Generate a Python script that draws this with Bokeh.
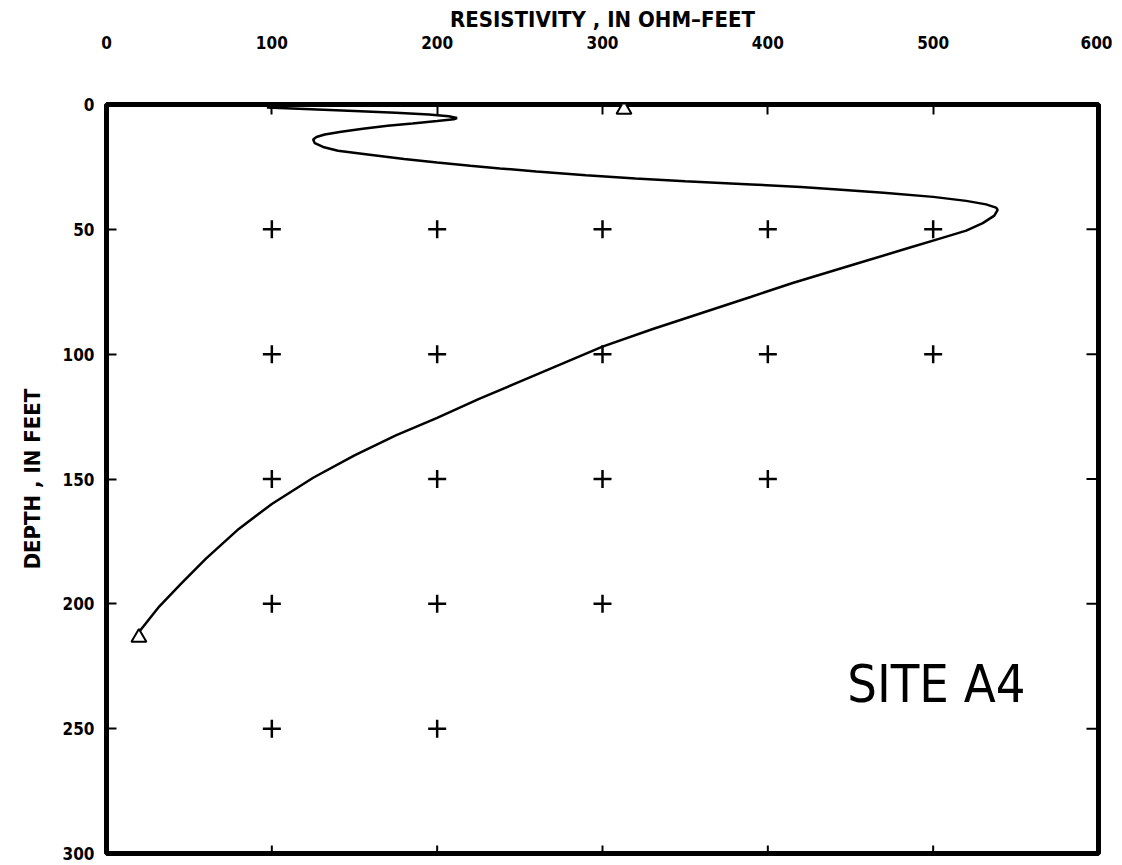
import math
from bokeh.plotting import figure
from bokeh.models import Range1d, LinearAxis, FixedTicker, Label
from bokeh.embed import file_html
from bokeh.resources import INLINE

# ---- data ----
curve_resistivity = [97, 120, 150, 175, 195, 207, 212, 210, 200, 185, 170, 155, 142, 132, 127, 125,
                     126, 131, 140, 158, 180, 200, 220, 238, 260, 290, 320, 350, 390, 420, 440,
                     470, 500, 520, 532, 538, 539,
                     537, 530, 520, 505, 485, 460, 440, 415, 390, 360, 330, 300, 275, 250, 225,
                     200, 175, 150, 125, 100, 80, 60, 45, 32, 20]
curve_depth = [1.2, 1.8, 2.6, 3.3, 4.0, 4.7, 5.4, 5.9, 6.6, 7.6, 8.5, 9.7, 10.9, 12.0, 13.0, 14.0,
               15.5, 17.0, 18.5, 20.0, 21.8, 23.2, 24.5, 25.6, 26.8, 28.3, 29.6, 30.7, 32.0, 33.0, 33.9,
               35.3, 37.0, 38.6, 40.0, 41.3, 42.2,
               44.5, 47.5, 50.5, 53.5, 57.5, 62.5, 66.5, 71.5, 77.0, 83.5, 90.0, 97.0, 104.0, 111.0, 118.0,
               125.5, 132.5, 140.5, 149.5, 160.0, 170.0, 182.0, 192.0, 201.0, 211.0]

end_resistivity = [313, 19.6]
end_depth = [2.0, 213.5]

cross_resistivity = [100, 200, 300, 400, 500,
                     100, 200, 300, 400, 500,
                     100, 200, 300, 400,
                     100, 200, 300,
                     100, 200]
cross_depth = [50] * 5 + [100] * 5 + [150] * 4 + [200] * 3 + [250] * 2

x_ticks = [0, 100, 200, 300, 400, 500, 600]
y_ticks = [0, 50, 100, 150, 200, 250, 300]
right_ticks = [50, 100, 150, 200, 250]
bottom_ticks = [100, 200, 300, 400, 500]

x_title = "RESISTIVITY , IN OHM\u2013FEET"
y_title = "DEPTH , IN FEET"
site_text = "SITE A4"

FONT = "DejaVu Sans Condensed"

X_MIN, X_MAX = 0, 600
D_TOP, D_BOTTOM = 0, 300

p = figure(width=1112, height=864,
           x_range=Range1d(X_MIN, X_MAX), y_range=Range1d(D_BOTTOM, D_TOP),
           x_axis_type=None, y_axis_type=None,
           output_backend="svg", toolbar_location=None,
           min_border_left=106, min_border_right=14,
           min_border_top=104, min_border_bottom=11)
p.background_fill_color = "white"
p.border_fill_color = "white"
p.outline_line_color = "black"
p.outline_line_width = 5
p.xgrid.visible = False
p.ygrid.visible = False


def style_axis(ax, tick_in=10):
    ax.major_tick_in = tick_in
    ax.major_tick_out = 0
    ax.major_tick_line_width = 2
    ax.major_tick_line_color = "black"
    ax.minor_tick_line_color = None
    ax.axis_line_color = None
    ax.major_label_text_font = FONT
    ax.major_label_text_font_style = "bold"
    ax.major_label_text_font_size = "17px"
    ax.major_label_text_color = "black"
    ax.axis_label_text_font = FONT
    ax.axis_label_text_font_style = "bold"
    ax.axis_label_text_font_size = "22px"
    ax.axis_label_text_color = "black"


top = LinearAxis(ticker=FixedTicker(ticks=x_ticks))
style_axis(top)
top.major_label_standoff = 56
top.axis_label = x_title
top.axis_label_standoff = 1
p.add_layout(top, "above")

left = LinearAxis(ticker=FixedTicker(ticks=y_ticks))
style_axis(left)
left.major_label_standoff = 12
left.axis_label = y_title
left.axis_label_standoff = 15
p.add_layout(left, "left")

# inward tick marks on the right and bottom edges (no labels there)
p.scatter([X_MAX] * len(right_ticks), right_ticks, marker="dash", size=24,
          line_color="black", line_width=2)
p.scatter(bottom_ticks, [D_BOTTOM] * len(bottom_ticks), marker="dash", size=16,
          angle=math.pi / 2, line_color="black", line_width=2)

# grid crosses
p.scatter(cross_resistivity, cross_depth, marker="cross", size=18,
          line_color="black", line_width=2.5)

# resistivity curve
p.line(curve_resistivity, curve_depth, line_color="black", line_width=2.5)

# end points
p.scatter(end_resistivity, end_depth, marker="triangle", size=15,
          fill_color="white", line_color="black", line_width=2)

p.add_layout(Label(x=448, y=232, text=site_text, text_align="left", text_baseline="middle",
                   text_font=FONT, text_font_size="52px", text_color="black"))

open("out.html", "w").write(file_html(p, INLINE))
